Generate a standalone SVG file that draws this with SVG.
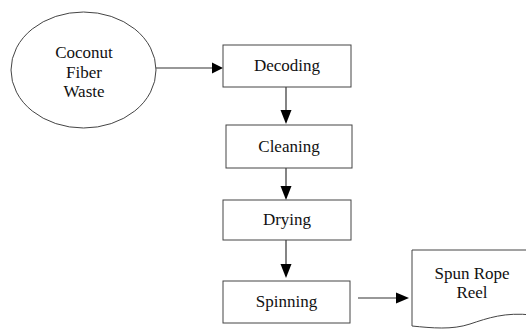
<svg xmlns="http://www.w3.org/2000/svg" width="526" height="329" viewBox="0 0 526 329">
<style>
.shape{fill:#fff;stroke:#444;stroke-width:1}
.lbl{font-family:"Liberation Serif","Times New Roman",Times,Tinos,"Noto Serif","DejaVu Serif",FreeSerif,serif;font-size:17px;fill:#111;text-anchor:middle}
.conn{stroke:#333;stroke-width:1.2;fill:none}
.head{fill:#000}
</style>
<rect width="526" height="329" fill="#fff"/>
<g id="connectors">
<line class="conn" x1="156" y1="68" x2="213" y2="68"/>
<polygon class="head" points="223,68 212,62.5 212,73.5"/>
<line class="conn" x1="286" y1="87" x2="286" y2="111"/>
<polygon class="head" points="286,124 280.5,110 291.5,110"/>
<line class="conn" x1="286" y1="168" x2="286" y2="187"/>
<polygon class="head" points="286,200 280.5,186 291.5,186"/>
<line class="conn" x1="286" y1="240" x2="286" y2="264"/>
<polygon class="head" points="286,278 280.5,264 291.5,264"/>
<line class="conn" x1="358" y1="298" x2="397" y2="298"/>
<polygon class="head" points="409,298 396,292.5 396,303.5"/>
</g>
<g id="coconut-fiber-waste">
<ellipse class="shape" cx="83.5" cy="70" rx="72.5" ry="58"/>
<text class="lbl" x="84" y="58">Coconut</text>
<text class="lbl" x="84" y="78">Fiber</text>
<text class="lbl" x="84" y="97">Waste</text>
</g>
<g id="decoding">
<rect class="shape" x="223" y="45" width="128" height="42"/>
<text class="lbl" x="287" y="71">Decoding</text>
</g>
<g id="cleaning">
<rect class="shape" x="226" y="125" width="126" height="43"/>
<text class="lbl" x="289" y="152">Cleaning</text>
</g>
<g id="drying">
<rect class="shape" x="223" y="200" width="128" height="40"/>
<text class="lbl" x="287" y="225">Drying</text>
</g>
<g id="spinning">
<rect class="shape" x="223" y="281" width="127" height="42"/>
<text class="lbl" x="286.5" y="307">Spinning</text>
</g>
<g id="spun-rope-reel">
<path class="shape" d="M412,250 H532 V315 C505,312 488,318 470,324 C452,330 432,328 412,326 Z"/>
<text class="lbl" x="472" y="279">Spun Rope</text>
<text class="lbl" x="472" y="298">Reel</text>
</g>
</svg>
